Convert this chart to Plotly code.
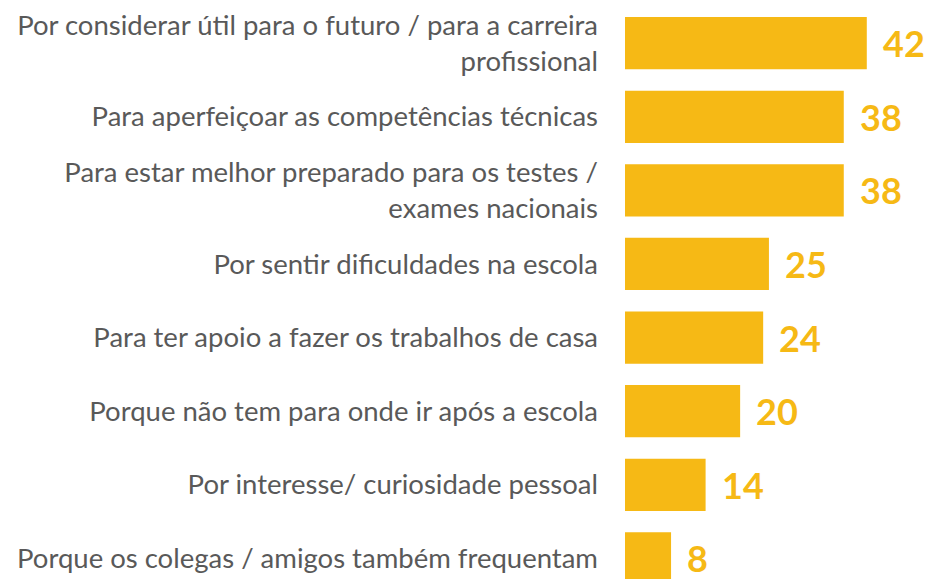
import plotly.graph_objects as go

categories = [
    "Por considerar útil para o futuro / para a carreira<br>profissional",
    "Para aperfeiçoar as competências técnicas",
    "Para estar melhor preparado para os testes /<br>exames nacionais",
    "Por sentir dificuldades na escola",
    "Para ter apoio a fazer os trabalhos de casa",
    "Porque não tem para onde ir após a escola",
    "Por interesse/ curiosidade pessoal",
    "Porque os colegas / amigos também frequentam",
]
values = [42, 38, 38, 25, 24, 20, 14, 8]

BAR_COLOR = "#F6B915"
LABEL_COLOR = "#595959"

fig = go.Figure(
    go.Bar(
        x=values,
        y=categories,
        orientation="h",
        marker=dict(color=BAR_COLOR, line=dict(width=0)),
        hoverinfo="skip",
    )
)

for c, v in zip(categories, values):
    fig.add_annotation(
        x=v, y=c, xref="x", yref="y",
        text=f"<b>{v}</b>", showarrow=False,
        xanchor="left", yanchor="middle", xshift=14, yshift=0,
        font=dict(family="Lato", size=36, color=BAR_COLOR),
    )

fig.update_layout(
    width=925, height=571,
    margin=dict(l=617, r=0, t=0, b=0),
    plot_bgcolor="white", paper_bgcolor="white",
    bargap=0.29,
    showlegend=False,
    xaxis=dict(range=[0, 53.5], visible=False, fixedrange=True),
    yaxis=dict(
        type="category",
        range=[7.28, -0.383],
        showgrid=False, zeroline=False, showline=False,
        ticks="", ticklabelstandoff=26,
        tickfont=dict(family="Lato", size=27.5, color=LABEL_COLOR),
        fixedrange=True,
    ),
)

fig.write_html("out.html")
